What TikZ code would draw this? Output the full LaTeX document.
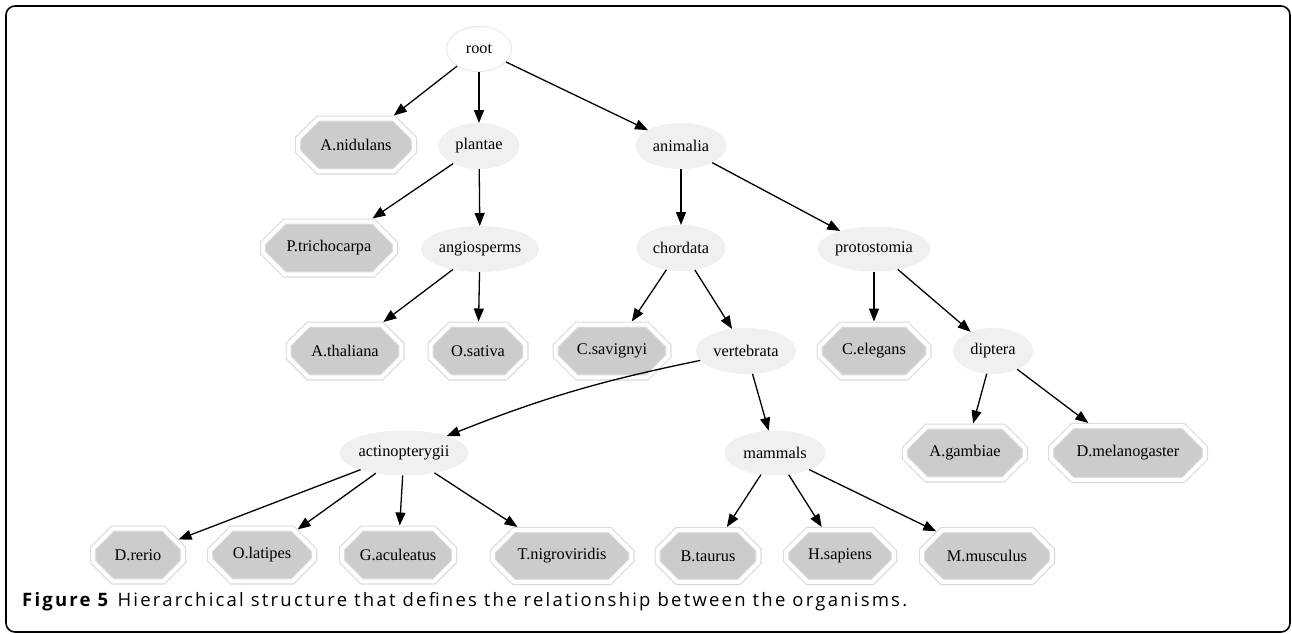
\documentclass[tikz,border=0pt]{standalone}
\usepackage{fontspec}
\setmainfont{Liberation Serif}
\newfontfamily\capfont[LetterSpace=12]{Open Sans}
\usetikzlibrary{shapes.geometric,shapes.misc,arrows.meta}
\definecolor{octfill}{RGB}{204,204,204}
\definecolor{octline}{RGB}{218,218,218}
\definecolor{ellfill}{RGB}{240,240,240}
\definecolor{rootline}{RGB}{232,232,232}
\tikzset{
  ell/.style={ellipse, inner sep=0pt, fill=ellfill, draw=ellfill, line width=1pt,
    font=\rmfamily\fontsize{16.3}{18}\selectfont},
  rootell/.style={ell, fill=white, draw=rootline},
  oct/.style={chamfered rectangle, inner sep=0pt, fill=octfill, draw=octline,
    line width=1.2pt, double=white, double distance=4pt, outer sep=3.2pt,
    chamfered rectangle ysep=14pt,
    font=\rmfamily\fontsize{16.3}{18}\selectfont},
  edge/.style={line width=1.3pt, -{Triangle[length=13pt,width=10pt]}},
}
\begin{document}
\begin{tikzpicture}[x=1pt,y=-1pt]
\useasboundingbox (0,0) rectangle (1292,633);
\draw[line width=1.6pt, rounded corners=9pt] (6,6) rectangle (1290,632);
% ellipses
\node[rootell, minimum width=65pt, minimum height=45pt] (root) at (479,49) {root};
\node[ell, minimum width=80pt, minimum height=45pt] (plantae) at (479,146) {plantae};
\node[ell, minimum width=90pt, minimum height=45pt] (animalia) at (681,146) {animalia};
\node[ell, minimum width=117pt, minimum height=45pt] (angiosperms) at (480,249) {angiosperms};
\node[ell, minimum width=88pt, minimum height=45pt] (chordata) at (681,248) {chordata};
\node[ell, minimum width=112pt, minimum height=44pt] (protostomia) at (874,249) {protostomia};
\node[ell, minimum width=99pt, minimum height=45pt] (vertebrata) at (746,351) {vertebrata};
\node[ell, minimum width=79pt, minimum height=45pt] (diptera) at (993,351) {diptera};
\node[ell, minimum width=125pt, minimum height=44pt] (actinopterygii) at (404,453) {actinopterygii};
\node[ell, minimum width=100pt, minimum height=44pt] (mammals) at (775,453) {mammals};
% octagons (path size = outer - 6.4)
\node[oct, minimum width=115.6pt, minimum height=52.6pt, chamfered rectangle xsep=20pt] (anid) at (356,145) {A.nidulans};
\node[oct, minimum width=131.6pt, minimum height=52.6pt, chamfered rectangle xsep=23pt] (ptri) at (329,248) {P.trichocarpa};
\node[oct, minimum width=112.6pt, minimum height=52.6pt, chamfered rectangle xsep=20pt] (atha) at (345,351) {A.thaliana};
\node[oct, minimum width=94.6pt, minimum height=52.6pt, chamfered rectangle xsep=17pt] (osat) at (478,351) {O.sativa};
\node[oct, minimum width=112.6pt, minimum height=52.6pt, chamfered rectangle xsep=20pt] (csav) at (612,351) {C.savignyi};
\node[oct, minimum width=108.6pt, minimum height=52.6pt, chamfered rectangle xsep=19pt] (cele) at (874,351) {C.elegans};
\node[oct, minimum width=119.6pt, minimum height=52.6pt, chamfered rectangle xsep=21pt] (agam) at (965,453) {A.gambiae};
\node[oct, minimum width=153.6pt, minimum height=53.6pt, chamfered rectangle xsep=27pt] (dmel) at (1128,453) {D.melanogaster};
\node[oct, minimum width=89.6pt, minimum height=52.6pt, chamfered rectangle xsep=16pt] (drer) at (138,555) {D.rerio};
\node[oct, minimum width=103.6pt, minimum height=52.6pt, chamfered rectangle xsep=18pt] (olat) at (262,555) {O.latipes};
\node[oct, minimum width=111.6pt, minimum height=52.6pt, chamfered rectangle xsep=20pt] (gacu) at (398,555) {G.aculeatus};
\node[oct, minimum width=138.6pt, minimum height=51.6pt, chamfered rectangle xsep=25pt] (tnig) at (562,556) {T.nigroviridis};
\node[oct, minimum width=100.6pt, minimum height=51.6pt, chamfered rectangle xsep=18pt] (btau) at (708,556) {B.taurus};
\node[oct, minimum width=107.6pt, minimum height=51.6pt, chamfered rectangle xsep=19pt] (hsap) at (840,556) {H.sapiens};
\node[oct, minimum width=129.6pt, minimum height=51.6pt, chamfered rectangle xsep=23pt] (mmus) at (987,556) {M.musculus};
% edges
\draw[edge] (root) -- (anid);
\draw[edge] (root) -- (plantae);
\draw[edge] (root) -- (animalia);
\draw[edge] (plantae) -- (ptri);
\draw[edge] (plantae) -- (angiosperms);
\draw[edge] (angiosperms) -- (atha);
\draw[edge] (angiosperms) -- (osat);
\draw[edge] (animalia) -- (chordata);
\draw[edge] (animalia) -- (protostomia);
\draw[edge] (chordata) -- (csav);
\draw[edge] (chordata) -- (vertebrata);
\draw[edge] (protostomia) -- (cele);
\draw[edge] (protostomia) -- (diptera);
\draw[edge] (vertebrata) to[bend right=5] (actinopterygii);
\draw[edge] (vertebrata) -- (mammals);
\draw[edge] (diptera) -- (agam);
\draw[edge] (diptera) -- (dmel);
\draw[edge] (actinopterygii) -- (drer);
\draw[edge] (actinopterygii) -- (olat);
\draw[edge] (actinopterygii) -- (gacu);
\draw[edge] (actinopterygii) -- (tnig);
\draw[edge] (mammals) -- (btau);
\draw[edge] (mammals) -- (hsap);
\draw[edge] (mammals) -- (mmus);
% caption
\node[anchor=base west, inner sep=0pt, font=\capfont\fontsize{18.5}{21}\selectfont] (caption) at (22,606)
  {\textbf{Figure 5} Hierarchical structure that defines the relationship between the organisms.};
\end{tikzpicture}
\end{document}
